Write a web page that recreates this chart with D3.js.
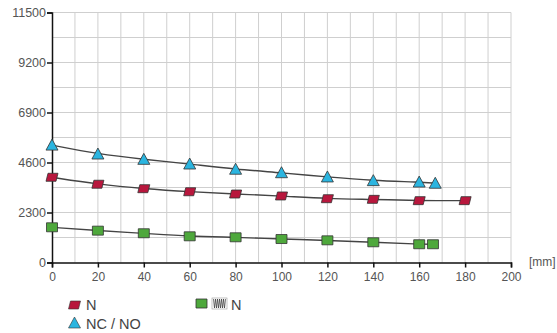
<!DOCTYPE html>
<html><head><meta charset="utf-8">
<script src="https://cdn.jsdelivr.net/npm/d3@7"></script>
<style>
body{margin:0;background:#fff;}
svg{display:block;font-family:"Liberation Sans",Arial,sans-serif;}
</style></head>
<body><svg id="c" width="557" height="333"></svg>
<script>
const xTicks = [0,20,40,60,80,100,120,140,160,180,200];
const yTicks = [0,2300,4600,6900,9200,11500];
const redX = [0,20,40,60,80,100,120,140,160,180];
const redY = [3920,3600,3395,3255,3150,3060,2935,2905,2845,2845];
const blueX = [0,20,40,60,80,100,120,140,160,167];
const blueY = [5400,4990,4745,4530,4290,4130,3935,3765,3700,3645];
const greenX = [0,20,40,60,80,100,120,140,160,166];
const greenY = [1620,1465,1345,1205,1160,1080,1020,930,840,840];
const legendLabels = ["N","NC / NO","N"];

const svg = d3.select("#c");
const x = d3.scaleLinear().domain([0,200]).range([52,511]);
const y = d3.scaleLinear().domain([0,11500]).range([262.5,12.5]);

// grid
const g = svg.append("g");
g.selectAll("line.v").data(d3.range(10,201,10)).enter().append("line")
  .attr("x1",d=>x(d)).attr("x2",d=>x(d)).attr("y1",y(0)).attr("y2",y(11500))
  .attr("stroke","#cfcfcf").attr("stroke-width",1);
g.selectAll("line.h").data(d3.range(1150,11501,1150)).enter().append("line")
  .attr("x1",x(0)).attr("x2",x(200)).attr("y1",d=>y(d)).attr("y2",d=>y(d))
  .attr("stroke","#cfcfcf").attr("stroke-width",1);

// axes
const ax = svg.append("g").attr("transform",`translate(0,${y(0)})`)
  .call(d3.axisBottom(x).tickValues(xTicks).tickFormat(d3.format("d")).tickSize(5).tickSizeOuter(5));
const ay = svg.append("g").attr("transform",`translate(${x(0)},0)`)
  .call(d3.axisLeft(y).tickValues(yTicks).tickFormat(d3.format("d")).tickSize(5).tickSizeOuter(5));
[ax,ay].forEach(a=>{
  a.selectAll("path,line").attr("stroke","#111").attr("stroke-width",1.5);
  a.selectAll("text").attr("fill","#555")
   .style("font-family","'Liberation Sans',Arial,sans-serif");
});
ax.selectAll("text").style("font-size","12px").attr("dy","0.9em");
ay.selectAll("text").style("font-size","12.5px").attr("x",-6);
svg.append("text").attr("x",529).attr("y",266).attr("fill","#555")
  .style("font-size","12px").text("[mm]");

// series
const line = d3.line().x(d=>x(d[0])).y(d=>y(d[1])).curve(d3.curveBasis);
function series(xs, ys, shape, fill){
  const pts = xs.map((v,i)=>[v,ys[i]]);
  svg.append("path").attr("d",line(pts)).attr("fill","none")
    .attr("stroke","#444").attr("stroke-width",1.4);
  svg.selectAll(null).data(pts).enter().append("path")
    .attr("transform",d=>`translate(${x(d[0])},${y(d[1])})`)
    .attr("d",shape).attr("fill",fill).attr("stroke","#333").attr("stroke-width",0.8);
}
const para = "M-4,-4H6L4,4H-6Z";
const tri = "M0,-6L6,5H-6Z";
const sq = "M-5.5,-4.5H5.5V4.5H-5.5Z";
series(greenX, greenY, sq, "#4ea83c");
series(redX, redY, para, "#b8173d");
series(blueX, blueY, tri, "#2bb5e0");

// legend
const lg = svg.append("g");
lg.append("path").attr("transform","translate(74.5,305)").attr("d",para)
  .attr("fill","#b8173d").attr("stroke","#333").attr("stroke-width",0.6);
lg.append("text").attr("x",86).attr("y",310).attr("fill","#444").style("font-size","14.5px").text(legendLabels[0]);
lg.append("path").attr("transform","translate(74.5,323)").attr("d",tri)
  .attr("fill","#2bb5e0").attr("stroke","#333").attr("stroke-width",0.6);
lg.append("text").attr("x",86).attr("y",329).attr("fill","#444").style("font-size","14.5px").text(legendLabels[1]);
lg.append("path").attr("transform","translate(201.5,303.5)").attr("d",sq)
  .attr("fill","#4ea83c").attr("stroke","#333").attr("stroke-width",0.8);
// spring icon
const sp = lg.append("g").attr("transform","translate(212,298)");
sp.append("rect").attr("x",0).attr("y",0).attr("width",15).attr("height",11)
  .attr("fill","none").attr("stroke","#999").attr("stroke-width",0.6);
let zz = "M1.5,1";
for(let i=0;i<6;i++){ zz += `L${2.5+i*2},10L${3.5+i*2},1`; }
sp.append("path").attr("d",zz).attr("fill","none").attr("stroke","#333").attr("stroke-width",0.7);
lg.append("text").attr("x",231).attr("y",310).attr("fill","#444").style("font-size","14.5px").text(legendLabels[2]);
</script></body></html>
